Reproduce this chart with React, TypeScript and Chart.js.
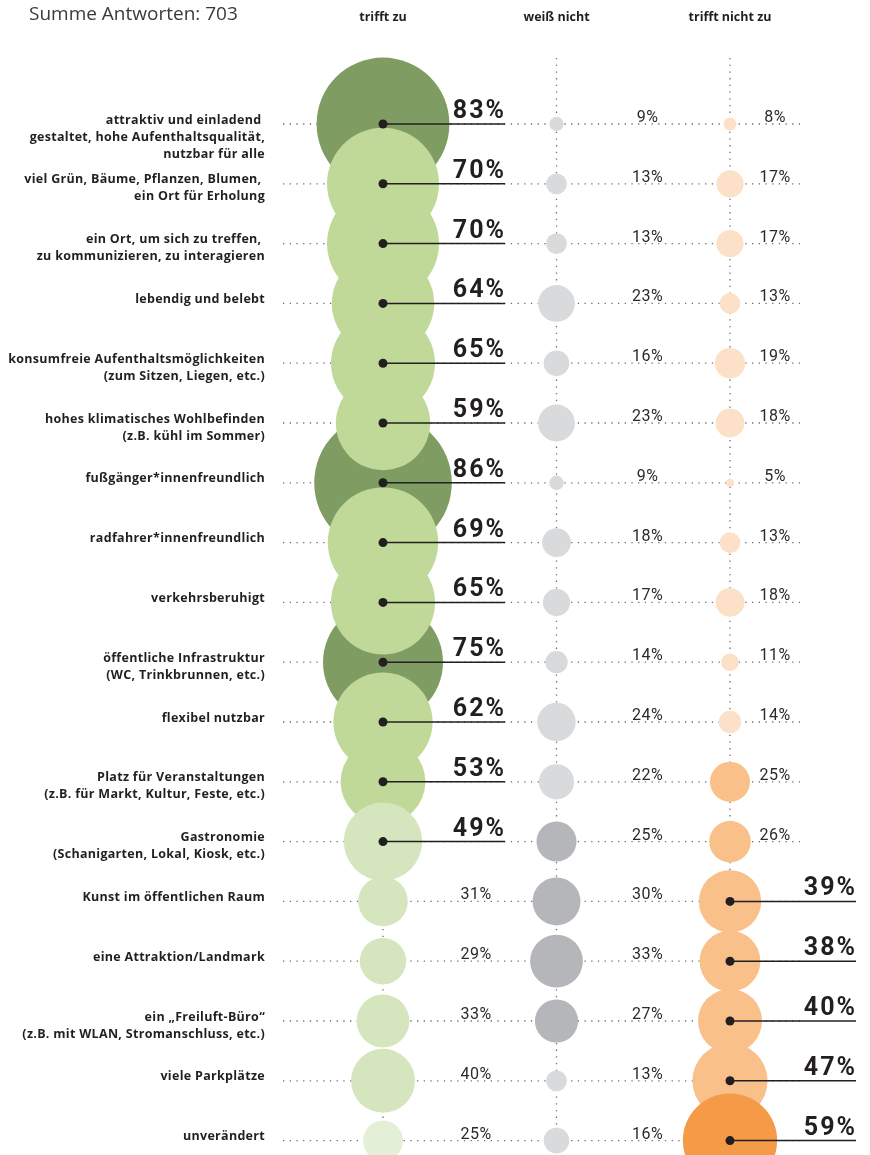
import React, { useEffect, useRef } from "react";
import { Chart, registerables } from "chart.js";

Chart.register(...registerables);

const TITLE = "Summe Antworten: 703";
const COLUMNS = ["trifft zu", "weiß nicht", "trifft nicht zu"];

const CATEGORIES: string[][] = [
  ["attraktiv und einladend ", "gestaltet, hohe Aufenthaltsqualität,", "nutzbar für alle"],
  ["viel Grün, Bäume, Pflanzen, Blumen, ", "ein Ort für Erholung"],
  ["ein Ort, um sich zu treffen, ", "zu kommunizieren, zu interagieren"],
  ["lebendig und belebt"],
  ["konsumfreie Aufenthaltsmöglichkeiten", "(zum Sitzen, Liegen, etc.)"],
  ["hohes klimatisches Wohlbefinden", "(z.B. kühl im Sommer)"],
  ["fußgänger*innenfreundlich"],
  ["radfahrer*innenfreundlich"],
  ["verkehrsberuhigt"],
  ["öffentliche Infrastruktur", "(WC, Trinkbrunnen, etc.)"],
  ["flexibel nutzbar"],
  ["Platz für Veranstaltungen", "(z.B. für Markt, Kultur, Feste, etc.)"],
  ["Gastronomie", "(Schanigarten, Lokal, Kiosk, etc.)"],
  ["Kunst im öffentlichen Raum"],
  ["eine Attraktion/Landmark"],
  ["ein „Freiluft-Büro“", "(z.B. mit WLAN, Stromanschluss, etc.)"],
  ["viele Parkplätze"],
  ["unverändert"],
];

const TRIFFT_ZU = [83, 70, 70, 64, 65, 59, 86, 69, 65, 75, 62, 53, 49, 31, 29, 33, 40, 25];
const WEISS_NICHT = [9, 13, 13, 23, 16, 23, 9, 18, 17, 14, 24, 22, 25, 30, 33, 27, 13, 16];
const TRIFFT_NICHT_ZU = [8, 17, 17, 13, 19, 18, 5, 13, 18, 11, 14, 25, 26, 39, 38, 40, 47, 59];

const SERIES = [TRIFFT_ZU, WEISS_NICHT, TRIFFT_NICHT_ZU];

// styling
const GREEN = ["#e4efd8", "#d5e6bf", "#c0d999", "#7f9c62"];
const GREY = ["#d9dadc", "#b5b6b9"];
const ORANGE = ["#fde0c8", "#f9c08a", "#f59b48"];
const SIZE = 0.8; // px radius per percent
const INK = "#231f20";
const FONT = "'Open Sans', sans-serif";
const NUM_FONT = "Roboto, sans-serif";

function colorFor(col: number, v: number): string {
  if (col === 0) return GREEN[v >= 75 ? 3 : v >= 50 ? 2 : v > 25 ? 1 : 0];
  if (col === 1) return GREY[v >= 25 ? 1 : 0];
  return ORANGE[v >= 50 ? 2 : v >= 25 ? 1 : 0];
}

function maxCol(row: number): number {
  let best = 0;
  for (let c = 1; c < SERIES.length; c++) if (SERIES[c][row] > SERIES[best][row]) best = c;
  return best;
}

const COL_STEP = 173.5;
const X_MIN = -383 / COL_STEP;
const X_MAX = X_MIN + 870 / COL_STEP;
const ROW_STEP = 59.8;
const Y_MIN = -124 / ROW_STEP;
const Y_MAX = Y_MIN + 1155 / ROW_STEP;

function dotted(ctx: CanvasRenderingContext2D, x1: number, y1: number, x2: number, y2: number) {
  ctx.save();
  ctx.strokeStyle = "#6d6d6d";
  ctx.lineWidth = 1.3;
  ctx.setLineDash([1.3, 5.4]);
  ctx.beginPath();
  ctx.moveTo(x1, y1);
  ctx.lineTo(x2, y2);
  ctx.stroke();
  ctx.restore();
}

const backgroundPlugin = {
  id: "background",
  beforeDatasetsDraw(chart: any) {
    const { ctx, scales } = chart;
    const xs = scales.x;
    const ys = scales.y;
    // title
    ctx.save();
    ctx.fillStyle = "#3a3a3a";
    ctx.font = `400 19px ${FONT}`;
    ctx.textAlign = "left";
    ctx.textBaseline = "middle";
    ctx.fillText(TITLE, 29, 15);
    // column headers
    ctx.fillStyle = INK;
    ctx.font = `700 12.5px ${FONT}`;
    ctx.textAlign = "center";
    COLUMNS.forEach((c, i) => ctx.fillText(c, xs.getPixelForValue(i), 17));
    // row labels
    ctx.font = `700 12.5px ${FONT}`;
    (ctx as any).letterSpacing = "0.3px";
    ctx.textAlign = "right";
    CATEGORIES.forEach((lines, r) => {
      const y = ys.getPixelForValue(r);
      lines.forEach((l, k) => ctx.fillText(l, 265, y - 4 + k * 17));
    });
    (ctx as any).letterSpacing = "0px";
    ctx.restore();
    // vertical dotted lines
    for (let c = 0; c < COLUMNS.length; c++) {
      const x = xs.getPixelForValue(c);
      dotted(ctx, x, 58, x, chart.height);
    }
    // horizontal dotted lines
    CATEGORIES.forEach((_, r) => {
      const y = ys.getPixelForValue(r);
      dotted(ctx, xs.getPixelForValue(0) - 100, y, xs.getPixelForValue(2) + 70, y);
    });
  },
};

const labelPlugin = {
  id: "labels",
  afterDatasetsDraw(chart: any) {
    const { ctx, scales } = chart;
    const xs = scales.x;
    const ys = scales.y;
    ctx.save();
    CATEGORIES.forEach((_, r) => {
      const y = ys.getPixelForValue(r);
      const best = maxCol(r);
      for (let c = 0; c < SERIES.length; c++) {
        const x = xs.getPixelForValue(c);
        const v = SERIES[c][r];
        if (c === best) {
          const end = c === 2 ? x + 125 : x + 121;
          ctx.strokeStyle = INK;
          ctx.lineWidth = 1.5;
          ctx.setLineDash([]);
          ctx.beginPath();
          ctx.moveTo(x, y);
          ctx.lineTo(end + 1, y);
          ctx.stroke();
          ctx.fillStyle = INK;
          ctx.beginPath();
          ctx.arc(x, y, 4.5, 0, Math.PI * 2);
          ctx.fill();
          ctx.font = `700 25px ${NUM_FONT}`;
          (ctx as any).letterSpacing = "2px";
          ctx.textAlign = "right";
          ctx.textBaseline = "alphabetic";
          ctx.fillText(`${v}%`, end + 2, y - 6);
          (ctx as any).letterSpacing = "0px";
        } else {
          const off = c === 2 ? 45 : c === 1 ? 91 : 93;
          ctx.fillStyle = "#2a2a2a";
          ctx.font = `400 16px ${NUM_FONT}`;
          (ctx as any).letterSpacing = "0.5px";
          ctx.textAlign = "center";
          ctx.textBaseline = "alphabetic";
          ctx.fillText(`${v}%`, x + off, y - 2);
          (ctx as any).letterSpacing = "0px";
        }
      }
    });
    ctx.restore();
  },
};

export default function App() {
  const ref = useRef<HTMLCanvasElement | null>(null);
  useEffect(() => {
    document.body.style.margin = "0";
    const datasets = SERIES.map((vals, c) => {
      let pts = vals.map((v, r) => ({ x: c, y: r, r: v * SIZE, v }));
      if (c === 0) pts = pts.slice().sort((a, b) => b.v - a.v);
      return {
        label: COLUMNS[c],
        data: pts,
        backgroundColor: pts.map((p) => colorFor(c, p.v)),
        borderWidth: 0,
        hoverBorderWidth: 0,
        clip: false as any,
      };
    });
    const chart = new Chart(ref.current as HTMLCanvasElement, {
      type: "bubble",
      data: { datasets },
      options: {
        animation: false,
        responsive: false,
        devicePixelRatio: 1,
        events: [],
        layout: { padding: 0, autoPadding: false },
        plugins: { legend: { display: false }, tooltip: { enabled: false } },
        scales: {
          x: { type: "linear", min: X_MIN, max: X_MAX, display: false },
          y: { type: "linear", min: Y_MIN, max: Y_MAX, reverse: true, display: false },
        },
      },
      plugins: [backgroundPlugin, labelPlugin],
    });
    return () => chart.destroy();
  }, []);
  return (
    <div style={{ width: 870, height: 1155 }}>
      <canvas ref={ref} width={870} height={1155} style={{ display: "block" }} />
    </div>
  );
}
